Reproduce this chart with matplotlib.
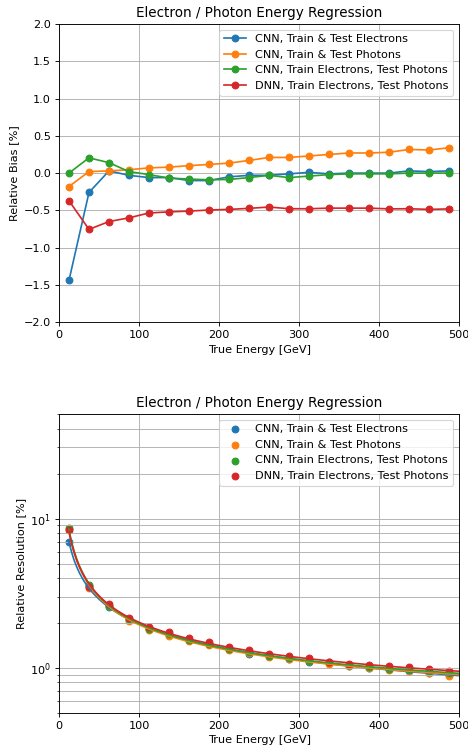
import numpy as np
import matplotlib
matplotlib.use("Agg")
import matplotlib.pyplot as plt

energy = np.arange(12.5, 500, 25)

labels = ["CNN, Train & Test Electrons",
          "CNN, Train & Test Photons",
          "CNN, Train Electrons, Test Photons",
          "DNN, Train Electrons, Test Photons"]

# relative bias [%]
bias_cnn_ele = [-1.44, -0.26, 0.03, -0.03, -0.06, -0.06, -0.10, -0.10, -0.05, -0.03,
                -0.03, -0.01, 0.01, -0.01, 0.0, 0.0, 0.0, 0.03, 0.02, 0.03]
bias_cnn_pho = [-0.18, 0.02, 0.03, 0.045, 0.07, 0.08, 0.10, 0.116, 0.134, 0.17,
                0.21, 0.21, 0.23, 0.25, 0.27, 0.27, 0.28, 0.317, 0.31, 0.34]
bias_cnn_cross = [0.0, 0.205, 0.14, 0.02, -0.02, -0.067, -0.08, -0.09, -0.085, -0.06,
                  -0.03, -0.06, -0.04, -0.02, -0.01, -0.01, -0.01, 0.0, 0.0, 0.0]
bias_dnn_cross = [-0.37, -0.755, -0.65, -0.60, -0.535, -0.52, -0.51, -0.495, -0.487, -0.473,
                  -0.455, -0.478, -0.478, -0.47, -0.47, -0.47, -0.48, -0.478, -0.487, -0.48]

# relative resolution [%]
res_cnn_ele = [6.95, 3.55, 2.55, 2.10, 1.82, 1.67, 1.53, 1.44, 1.34, 1.24,
               1.20, 1.15, 1.10, 1.08, 1.03, 1.00, 0.98, 0.95, 0.92, 0.90]
res_cnn_pho = [8.5, 3.45, 2.6, 2.05, 1.80, 1.65, 1.51, 1.43, 1.33, 1.26,
               1.19, 1.15, 1.11, 1.07, 1.03, 1.00, 0.97, 0.95, 0.93, 0.89]
res_cnn_cross = [8.6, 3.6, 2.6, 2.12, 1.83, 1.68, 1.54, 1.45, 1.35, 1.28,
                 1.21, 1.17, 1.12, 1.09, 1.04, 1.02, 0.99, 0.97, 0.95, 0.92]
res_dnn_cross = [8.4, 3.5, 2.68, 2.17, 1.87, 1.73, 1.58, 1.49, 1.39, 1.32,
                 1.25, 1.20, 1.16, 1.10, 1.07, 1.05, 1.03, 1.01, 0.98, 0.95]

biases = [bias_cnn_ele, bias_cnn_pho, bias_cnn_cross, bias_dnn_cross]
resolutions = [res_cnn_ele, res_cnn_pho, res_cnn_cross, res_dnn_cross]
colors = ["C0", "C1", "C2", "C3"]

DPI = 81
fig = plt.figure(figsize=(468 / DPI, 751 / DPI), dpi=DPI)
ax1 = fig.add_axes([0.126, 0.571, 0.855, 0.397])
ax2 = fig.add_axes([0.126, 0.0506, 0.855, 0.398])

for b, lab, c in zip(biases, labels, colors):
    ax1.plot(energy, b, "o-", color=c, label=lab)
ax1.set_xlim(0, 500)
ax1.set_ylim(-2, 2)
ax1.set_yticks(np.arange(-2, 2.01, 0.5))
ax1.grid(True)
ax1.set_title("Electron / Photon Energy Regression")
ax1.set_xlabel("True Energy [GeV]")
ax1.set_ylabel("Relative Bias [%]")
ax1.legend(loc="upper right")

# fit sigma^2 = a^2/E + b^2/E^2 + c^2 (relative weights)
xfit = np.linspace(12.5, 500, 300)
for r, lab, c in zip(resolutions, labels, colors):
    r = np.array(r)
    A = np.column_stack([1 / energy, 1 / energy**2, np.ones_like(energy)])
    w = 1 / r**2
    coef, _, _, _ = np.linalg.lstsq(A * w[:, None], r**2 * w, rcond=None)
    yfit = np.sqrt(np.clip(coef[0] / xfit + coef[1] / xfit**2 + coef[2], 1e-6, None))
    ax2.scatter(energy, r, color=c, label=lab)
    ax2.plot(xfit, yfit, color=c)
ax2.set_yscale("log")
ax2.set_xlim(0, 500)
ax2.set_ylim(0.5, 50)
ax2.grid(True, which="both")
ax2.set_title("Electron / Photon Energy Regression")
ax2.set_xlabel("True Energy [GeV]")
ax2.set_ylabel("Relative Resolution [%]")
ax2.legend(loc="upper right")

fig.savefig("out.png", dpi=DPI)
